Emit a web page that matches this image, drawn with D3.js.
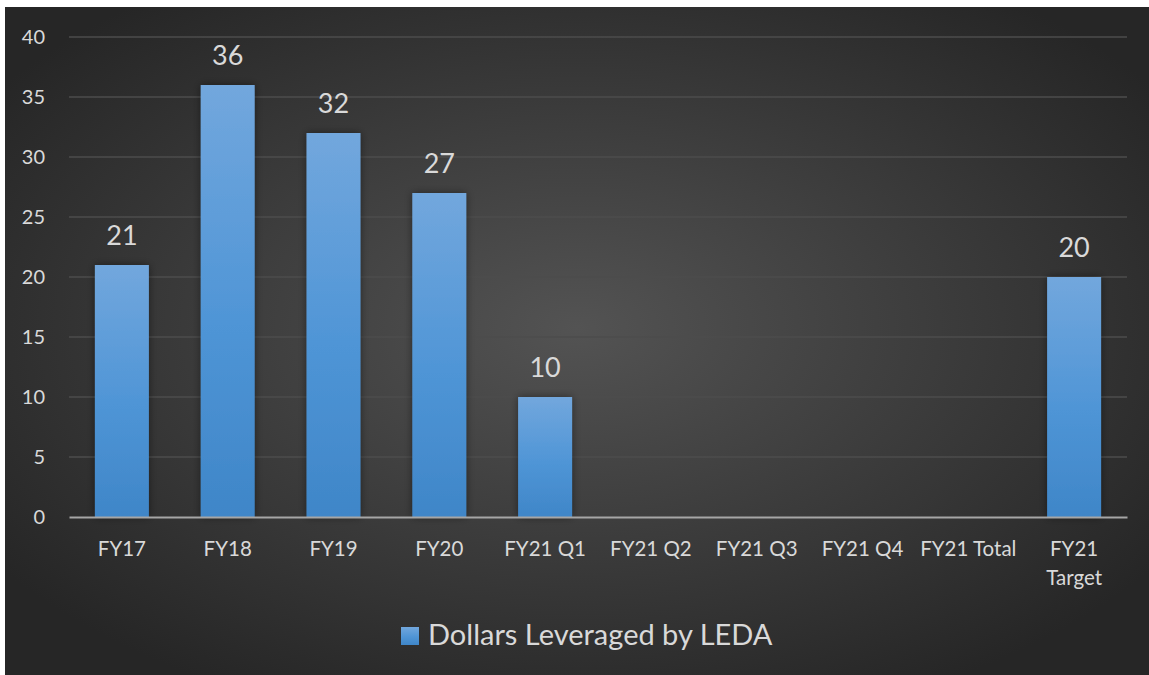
<!DOCTYPE html>
<html>
<head>
<meta charset="utf-8">
<script src="https://cdn.jsdelivr.net/npm/d3@7"></script>
<style>
  html, body { margin: 0; padding: 0; background: #ffffff; }
  svg { display: block; }
  text { font-family: Lato, "Open Sans", sans-serif; }
</style>
</head>
<body>
<svg id="chart" width="1149" height="675"></svg>
<script>
// Chart data
const categories = ["FY17", "FY18", "FY19", "FY20", "FY21 Q1", "FY21 Q2", "FY21 Q3", "FY21 Q4", "FY21 Total", "FY21 Target"];
const values = [21, 36, 32, 27, 10, null, null, null, null, 20];
const yTicks = [0, 5, 10, 15, 20, 25, 30, 35, 40];
const seriesName = "Dollars Leveraged by LEDA";

const W = 1149, H = 675;
const margin = { left: 69, right: 22, top: 37, bottom: 158 };
const svg = d3.select("#chart");
const defs = svg.append("defs");

// Background radial glow
const bg = defs.append("radialGradient").attr("id", "bgGrad")
  .attr("cx", "50%").attr("cy", "48%").attr("r", "62%");
bg.append("stop").attr("offset", "0%").attr("stop-color", "#535353");
bg.append("stop").attr("offset", "100%").attr("stop-color", "#262626");

// Bar fill
const barGrad = defs.append("linearGradient").attr("id", "barGrad")
  .attr("x1", 0).attr("y1", 0).attr("x2", 0).attr("y2", 1);
barGrad.append("stop").attr("offset", "0%").attr("stop-color", "#72a7dd");
barGrad.append("stop").attr("offset", "55%").attr("stop-color", "#4f95d6");
barGrad.append("stop").attr("offset", "100%").attr("stop-color", "#3f86c8");

const shadow = defs.append("filter").attr("id", "barShadow")
  .attr("x", "-30%").attr("y", "-10%").attr("width", "160%").attr("height", "120%");
shadow.append("feGaussianBlur").attr("in", "SourceAlpha").attr("stdDeviation", 4).attr("result", "blur");
shadow.append("feComponentTransfer").attr("in", "blur").attr("result", "soft")
  .append("feFuncA").attr("type", "linear").attr("slope", 0.45);
const merge = shadow.append("feMerge");
merge.append("feMergeNode").attr("in", "soft");
merge.append("feMergeNode").attr("in", "SourceGraphic");

svg.append("rect").attr("x", 5).attr("y", 7).attr("width", W - 5).attr("height", H - 7)
  .attr("fill", "url(#bgGrad)");

const x = d3.scaleBand().domain(categories)
  .range([margin.left, W - margin.right]).paddingInner(0.49).paddingOuter(0.245);
const y = d3.scaleLinear().domain([0, 40]).range([H - margin.bottom, margin.top]);

// Gridlines
svg.append("g").selectAll("line").data(yTicks.filter(d => d > 0)).join("line")
  .attr("x1", margin.left).attr("x2", W - margin.right)
  .attr("y1", d => y(d)).attr("y2", d => y(d))
  .attr("stroke", "#4d4d4d").attr("stroke-width", 1.3);

// Y axis labels
const yAxis = d3.axisLeft(y).tickValues(yTicks).tickSize(0).tickPadding(24);
const gy = svg.append("g").attr("transform", `translate(${margin.left},0)`).call(yAxis);
gy.select(".domain").remove();
gy.selectAll("text").attr("fill", "#d9d9d9").attr("font-size", 20);

// Bars
const barData = categories.map((c, i) => ({ c, v: values[i] })).filter(d => d.v != null);
svg.append("g").selectAll("rect").data(barData).join("rect")
  .attr("x", d => x(d.c)).attr("width", x.bandwidth())
  .attr("y", d => y(d.v)).attr("height", d => y(0) - y(d.v))
  .attr("fill", "url(#barGrad)").attr("filter", "url(#barShadow)");

// Value labels
svg.append("g").selectAll("text").data(barData).join("text")
  .attr("x", d => x(d.c) + x.bandwidth() / 2).attr("y", d => y(d.v) - 20)
  .attr("text-anchor", "middle").attr("fill", "#d9d9d9").attr("font-size", 27)
  .text(d => d.v);

// X axis
const xAxis = d3.axisBottom(x).tickSize(0).tickPadding(0);
const gx = svg.append("g").attr("transform", `translate(0,${y(0)})`).call(xAxis);
gx.select(".domain").attr("stroke", "#a6a6a6").attr("stroke-width", 2.2);
gx.selectAll(".tick text").each(function(d) {
  const t = d3.select(this).text("").attr("fill", "#d9d9d9").attr("font-size", 20.5).attr("dy", 0);
  const words = d === "FY21 Target" ? ["FY21", "Target"] : [d];
  words.forEach((w, i) => t.append("tspan").attr("x", 0).attr("y", 39 + i * 29).text(w));
});

// Legend
const lg = svg.append("g").attr("transform", "translate(401,627)");
lg.append("rect").attr("width", 18).attr("height", 18).attr("fill", "url(#barGrad)");
lg.append("text").attr("x", 27).attr("y", 18).attr("fill", "#d9d9d9").attr("font-size", 29)
  .text(seriesName);
</script>
</body>
</html>
